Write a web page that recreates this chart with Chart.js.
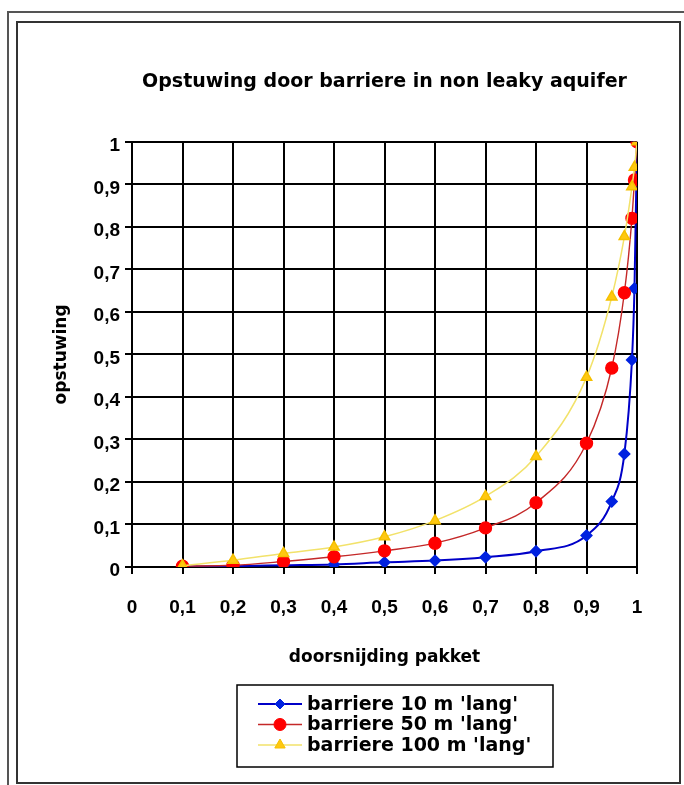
<!DOCTYPE html>
<html>
<head>
<meta charset="utf-8">
<script src="https://cdn.jsdelivr.net/npm/chart.js@4.4.1/dist/chart.umd.min.js"></script>
<style>
  html, body { margin: 0; padding: 0; background: #fff; overflow: hidden; }
  #outer { position: absolute; left: 7px; top: 11px; width: 690px; height: 800px; border: 2px solid #555; }
  #inner { position: absolute; left: 16px; top: 21px; width: 661px; height: 759px; border: 2px solid #333; }
  #chart { position: absolute; left: 0; top: 0; }
</style>
</head>
<body>
<div id="outer"></div>
<div id="inner"></div>
<canvas id="chart" width="684" height="785"></canvas>
<script>
 // doorsnijding pakket (x) and opstuwing (y)
 const xValues = [0.1, 0.2, 0.3, 0.4, 0.5, 0.6, 0.7, 0.8, 0.9, 0.95, 0.975, 0.99, 0.995, 1];
 const barriere10 =  [0.001, 0.002, 0.004, 0.006, 0.011, 0.015, 0.023, 0.037, 0.074, 0.154, 0.266, 0.487, 0.655, 1];
 const barriere50 =  [0.002, 0.004, 0.013, 0.024, 0.038, 0.056, 0.092, 0.151, 0.291, 0.468, 0.645, 0.82, 0.91, 1];
 const barriere100 = [0.003, 0.016, 0.032, 0.047, 0.071, 0.109, 0.166, 0.26, 0.446, 0.635, 0.777, 0.894, 0.94, 1];
 const seriesLabels = ["barriere 10 m 'lang'", "barriere 50 m 'lang'", "barriere 100 m 'lang'"];
 const xTickLabels = ['0', '0,1', '0,2', '0,3', '0,4', '0,5', '0,6', '0,7', '0,8', '0,9', '1'];
 const yTickLabels = ['0', '0,1', '0,2', '0,3', '0,4', '0,5', '0,6', '0,7', '0,8', '0,9', '1'];

 const FONT = "'Liberation Sans', Arial, sans-serif";
 const WIDE = "'DejaVu Sans', Verdana, sans-serif";

 function toPoints(ys) {
    return ys.map(function (y, i) { return {x: xValues[i], y: y}; });
 }

 // legend in a box, line + marker like the spreadsheet one
 const boxLegend = {
   id: 'boxLegend',
   afterDraw(chart) {
     const ctx = chart.ctx;
     ctx.save();
     ctx.fillStyle = '#fff';
     ctx.fillRect(237, 685, 316, 82);
     ctx.strokeStyle = '#000';
     ctx.lineWidth = 1.5;
     ctx.strokeRect(237, 685, 316, 82);
     chart.data.datasets.forEach(function (ds, i) {
       const y = 704 + i * 20.5;
       ctx.strokeStyle = ds.borderColor;
       ctx.lineWidth = ds.borderWidth;
       ctx.beginPath();
       ctx.moveTo(258, y);
       ctx.lineTo(302, y);
       ctx.stroke();
       ctx.fillStyle = ds.pointBackgroundColor;
       ctx.strokeStyle = ds.pointBorderColor;
       ctx.lineWidth = 1;
       Chart.helpers.drawPoint(ctx, {pointStyle: ds.pointStyle, radius: ds.pointRadius, borderWidth: 1}, 280, y);
       ctx.fillStyle = '#000';
       ctx.font = 'bold 19px ' + WIDE;
       ctx.textBaseline = 'middle';
       ctx.fillText(ds.label, 307, y + 1);
     });
     ctx.restore();
   }
 };

 const data = {
   datasets: [{
       label: seriesLabels[0],
       data: toPoints(barriere10),
       borderColor: '#0000c8',
       borderWidth: 2,
       pointStyle: 'rectRot',
       pointRadius: 5,
       pointBackgroundColor: '#0022e0',
       pointBorderColor: '#0022e0',
       order: 2
     },{
       label: seriesLabels[1],
       data: toPoints(barriere50),
       borderColor: '#c42828',
       borderWidth: 1.4,
       pointStyle: 'circle',
       pointRadius: 6,
       pointBackgroundColor: '#ff0000',
       pointBorderColor: '#ff0000',
       order: 1
     },{
       label: seriesLabels[2],
       data: toPoints(barriere100),
       borderColor: '#f2e26a',
       borderWidth: 1.5,
       pointStyle: 'triangle',
       pointRadius: 6,
       pointBackgroundColor: '#ffc810',
       pointBorderColor: '#f5c000',
       order: 0
     }
   ]
 };

 const config = {
   type: 'line',
   data: data,
   plugins: [boxLegend],
   options: {
     responsive: false,
     animation: false,
     layout: { padding: { left: 0, right: 47, top: 0, bottom: 110 } },
     elements: { line: { cubicInterpolationMode: 'monotone' } },
     scales: {
       x: {
         type: 'linear',
         min: 0,
         max: 1,
         afterFit: function (scale) { scale.height = 108; },
         afterBuildTicks: function (scale) {
            scale.ticks = xTickLabels.map(function (t, i) { return {value: i / 10}; });
         },
         ticks: {
           color: '#000',
           padding: 22,
           maxRotation: 0,
           autoSkip: false,
           font: { family: FONT, size: 19, weight: 'bold' },
           callback: function (v, i) { return xTickLabels[i]; }
         },
         grid: { color: '#000', lineWidth: 2, tickLength: 7, tickColor: '#000' },
         border: { color: '#000', width: 2 },
         title: {
           display: true,
           text: 'doorsnijding pakket',
           color: '#000',
           font: { family: WIDE, size: 17, weight: 'bold' },
           padding: { top: 0, bottom: 7 }
         }
       },
       y: {
         min: 0,
         max: 1,
         afterFit: function (scale) { scale.width = 132; },
         afterBuildTicks: function (scale) {
            scale.ticks = yTickLabels.map(function (t, i) { return {value: i / 10}; });
         },
         ticks: {
           color: '#000',
           padding: 5,
           labelOffset: 4,
           autoSkip: false,
           font: { family: FONT, size: 19, weight: 'bold' },
           callback: function (v, i) { return yTickLabels[i]; }
         },
         grid: { color: '#000', lineWidth: 2, tickLength: 7, tickColor: '#000' },
         border: { color: '#000', width: 2 },
         title: {
           display: true,
           text: 'opstuwing',
           color: '#000',
           font: { family: WIDE, size: 17, weight: 'bold' },
           padding: { top: 51, bottom: 0 }
         }
       }
     },
     plugins: {
       legend: { display: false },
       tooltip: { enabled: false },
       title: {
         display: true,
         fullSize: false,
         text: 'Opstuwing door barriere in non leaky aquifer',
         color: '#000',
         font: { family: WIDE, size: 19, weight: 'bold' },
         padding: { top: 71, bottom: 48 }
       }
     }
   }
 };

 const chart = new Chart(document.getElementById('chart'), config);
</script>
</body>
</html>
